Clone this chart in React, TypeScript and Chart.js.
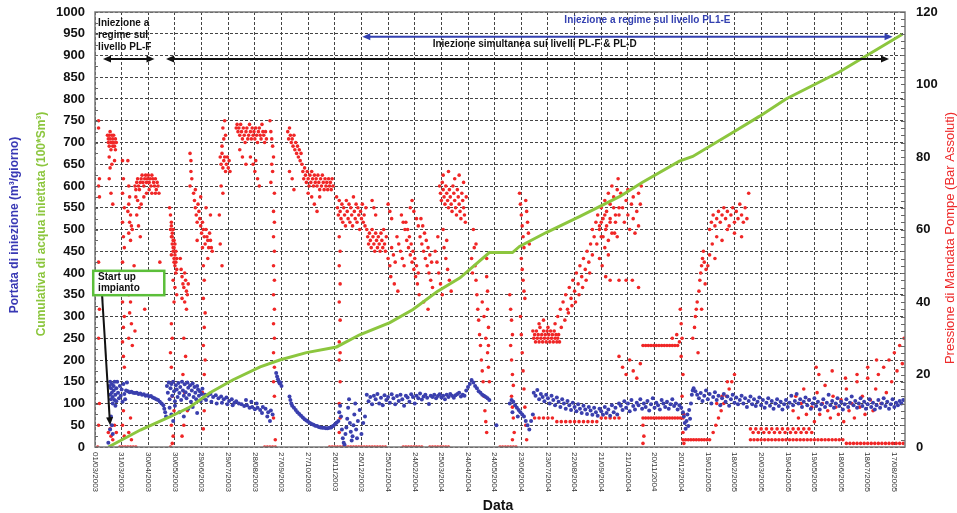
import React, { useEffect, useRef } from 'react';
import { Chart, registerables } from 'chart.js';

Chart.register(...registerables);

// Days counted from 01/03/2003; one labelled tick every 30 days
const tickDays = [0, 30, 60, 90, 120, 150, 180, 210, 240, 270, 300, 330, 360, 390, 420, 450, 480, 510, 540, 570, 600, 630, 660, 690, 720, 750, 780, 810, 840, 870, 900];
const tickLabels = [
  '01/03/2003', '31/03/2003', '30/04/2003', '30/05/2003', '29/06/2003', '29/07/2003', '28/08/2003',
  '27/09/2003', '27/10/2003', '26/11/2003', '26/12/2003', '25/01/2004', '24/02/2004', '25/03/2004',
  '24/04/2004', '24/05/2004', '23/06/2004', '23/07/2004', '22/08/2004', '21/09/2004', '21/10/2004',
  '20/11/2004', '20/12/2004', '19/01/2005', '18/02/2005', '20/03/2005', '19/04/2005', '19/05/2005',
  '18/06/2005', '18/07/2005', '17/08/2005'
];
const dayMax = 912;

// Cumulative injected water (100*Sm3), left axis
const cumDays = [15, 51, 84, 107, 129, 155, 186, 208, 238, 272, 298, 332, 358, 385, 411, 444, 470, 478, 508, 546, 591, 616, 658, 673, 718, 748, 778, 838, 868, 909];
const cumValues = [0, 39, 69, 92, 124, 154, 184, 200, 217, 230, 258, 286, 316, 357, 389, 447, 447, 461, 493, 530, 576, 608, 657, 668, 723, 760, 800, 862, 899, 949];

// Pump delivery pressure (bar), right axis: pairs of [day, bar]
const pressure2003 = [
  4, 90, 4, 88, 5, 74, 4, 72, 5, 69, 4, 51, 5, 38, 4, 30, 5, 12, 4, 6, 3, 0,
  14, 86, 15, 85, 15, 84, 16, 86, 16, 83, 17, 87, 17, 85, 18, 84, 18, 82, 19, 86, 19, 84, 20, 85, 20, 83, 21, 84, 21, 86, 22, 83, 23, 85, 23, 82, 24, 84,
  16, 80, 17, 77, 16, 74, 18, 70, 20, 67, 19, 78, 22, 79, 15, 4, 17, 5, 18, 3, 20, 2, 22, 6, 24, 4,
  31, 79, 32, 74, 31, 70, 33, 66, 31, 62, 32, 58, 33, 55, 31, 51, 32, 47, 32, 43, 31, 40, 33, 36, 32, 33, 31, 29, 32, 25, 33, 22, 32, 10, 31, 6, 33, 3,
  37, 79, 38, 72, 39, 69, 38, 67, 37, 65, 40, 64, 39, 62, 41, 61, 38, 59, 40, 57, 42, 60, 39, 48, 38, 42, 40, 40, 39, 37, 41, 34, 38, 30, 42, 28, 40, 8, 38, 4, 41, 2,
  45, 72, 46, 71, 47, 73, 48, 74, 49, 72, 50, 71, 51, 73, 52, 74, 53, 75, 54, 73, 55, 72, 56, 74, 57, 75, 58, 73, 59, 74, 60, 75, 61, 73, 62, 74, 63, 72, 64, 75,
  65, 74, 66, 73, 67, 72, 68, 74, 69, 71, 70, 73, 71, 72, 72, 70, 46, 69, 48, 68, 50, 66, 52, 67, 47, 64, 49, 61, 51, 58, 55, 69, 58, 70, 61, 71, 64, 70, 68, 70,
  44, 50, 73, 51, 44, 45, 56, 38, 45, 32,
  84, 66, 85, 64, 86, 62, 85, 60, 87, 59, 86, 58, 88, 57, 87, 56, 89, 55, 88, 54, 90, 53, 89, 52, 91, 51, 90, 50, 92, 49, 91, 48, 88, 46, 90, 44, 92, 42, 89, 40,
  86, 34, 87, 30, 85, 26, 86, 22, 88, 18, 87, 14, 89, 10, 86, 6, 88, 3, 85, 0, 87, 1,
  86, 61, 88, 60, 87, 58, 89, 57, 90, 56, 88, 55, 91, 54, 86, 53, 89, 51, 92, 52,
  96, 52, 97, 49, 98, 47, 99, 45, 100, 44, 101, 48, 102, 46, 103, 43, 104, 42, 98, 41, 101, 40, 105, 45, 103, 38, 100, 30, 102, 25, 99, 20, 101, 15, 104, 10, 100, 6, 98, 3,
  107, 81, 108, 79, 108, 76, 109, 74, 107, 72,
  111, 70, 112, 68, 113, 66, 114, 64, 115, 62, 116, 67, 117, 65, 118, 63, 119, 61, 120, 59, 121, 62, 122, 60, 123, 58, 124, 56, 125, 60, 126, 58, 127, 57, 128, 55,
  129, 59, 130, 57, 131, 55, 132, 54, 113, 71, 119, 69, 125, 66, 130, 64, 115, 57, 121, 55, 127, 52,
  122, 50, 123, 46, 122, 41, 124, 37, 123, 33, 122, 28, 124, 24, 123, 20, 121, 15, 123, 10, 122, 5,
  141, 80, 142, 78, 143, 81, 144, 77, 145, 79, 146, 80, 147, 76, 148, 78, 149, 80, 150, 77, 151, 79, 152, 76, 144, 88, 145, 85, 143, 83, 146, 90, 147, 86, 142, 72, 144, 70, 140, 64, 141, 56, 143, 50,
  159, 88, 160, 89, 161, 87, 162, 88, 163, 86, 164, 89, 165, 87, 166, 85, 167, 88, 168, 86, 169, 84, 170, 87, 171, 88, 172, 85, 173, 86, 174, 89, 175, 87, 176, 85,
  177, 88, 178, 86, 179, 87, 180, 85, 181, 88, 182, 86, 183, 84, 184, 87, 185, 88, 186, 86, 187, 85, 188, 89, 189, 87, 190, 86, 191, 84, 192, 87, 193, 85,
  175, 80, 178, 78, 180, 76, 183, 74, 185, 72, 181, 79, 166, 80, 170, 78, 163, 82,
  197, 90, 198, 87, 199, 85, 200, 83, 201, 80, 199, 78, 200, 76, 198, 73, 202, 70,
  201, 65, 202, 62, 201, 58, 202, 54, 201, 50, 202, 46, 201, 42, 202, 38, 201, 34, 202, 30, 201, 26, 202, 22, 201, 18, 202, 14, 201, 8, 203, 2,
  217, 87, 218, 85, 219, 88, 220, 86, 221, 84, 222, 85, 223, 83, 224, 86, 225, 82, 226, 84, 227, 81, 228, 83, 229, 80, 230, 82, 231, 79, 232, 81, 233, 78, 219, 76, 222, 74, 224, 71,
  234, 76, 235, 74, 236, 77, 237, 75, 238, 73, 239, 76, 240, 74, 241, 72, 242, 75, 243, 73, 244, 76, 245, 74, 246, 72, 247, 75, 248, 73, 249, 74, 250, 72, 251, 75,
  252, 73, 253, 71, 254, 74, 255, 72, 256, 75, 257, 73, 258, 71, 259, 74, 260, 72, 261, 73, 262, 71, 263, 74, 264, 72, 265, 73, 266, 71, 267, 74, 268, 72,
  240, 70, 244, 69, 247, 67, 250, 65, 253, 69,
  272, 69, 273, 66, 274, 64, 275, 68, 276, 65, 277, 63, 278, 67, 279, 62, 280, 66, 281, 64, 282, 61, 283, 68, 284, 65, 285, 63, 286, 67, 287, 62, 288, 66,
  289, 64, 290, 61, 291, 69, 292, 65, 293, 63, 294, 67, 295, 62, 296, 66, 297, 64, 298, 60, 299, 65, 300, 63, 301, 67, 302, 62, 303, 64, 304, 61, 305, 66,
  275, 58, 276, 54, 275, 50, 276, 45, 275, 40, 276, 35, 275, 29, 276, 26, 275, 24, 276, 18, 275, 12, 276, 8, 275, 4,
  28, 0, 31, 0, 34, 0, 37, 0, 40, 0, 43, 0, 46, 0, 191, 0, 194, 0, 197, 0, 200, 0, 203, 0, 264, 0, 267, 0, 270, 0, 273, 0, 276, 0, 279, 0,
  282, 0, 285, 0, 288, 0, 291, 0, 294, 0, 297, 0, 300, 0, 303, 0
];

const pressure2004 = [
  306, 60, 307, 58, 308, 56, 309, 59, 310, 57, 311, 55, 312, 60, 313, 58, 314, 56, 315, 54, 316, 59, 317, 57, 318, 55, 319, 58, 320, 56, 321, 54, 322, 59,
  323, 57, 324, 55, 325, 60, 326, 56, 327, 54, 328, 58, 312, 68, 314, 66, 316, 64, 330, 67, 332, 65, 334, 63,
  330, 52, 332, 50, 334, 55, 336, 53, 338, 51, 340, 58, 342, 56, 344, 54, 346, 52, 348, 50, 350, 62, 352, 60, 354, 58, 356, 56, 358, 54, 360, 52, 362, 50, 364, 48,
  345, 64, 347, 62, 349, 60, 351, 57, 353, 55, 355, 53, 357, 51, 359, 49, 361, 47, 363, 45, 366, 58, 368, 56, 370, 54, 372, 52, 374, 50, 376, 48, 378, 46, 380, 44,
  367, 63, 369, 61, 371, 59, 373, 57, 375, 55, 377, 53, 379, 51, 333, 47, 337, 45, 341, 43, 365, 42, 370, 40, 375, 38, 355, 66, 357, 68, 359, 65, 362, 63, 364, 61,
  388, 72, 389, 70, 390, 68, 391, 73, 392, 71, 393, 69, 394, 67, 395, 72, 396, 70, 397, 68, 398, 66, 399, 71, 400, 69, 401, 67, 402, 65, 403, 72, 404, 70,
  405, 68, 406, 66, 407, 64, 408, 71, 409, 69, 410, 67, 411, 65, 412, 63, 413, 70, 414, 68, 415, 66, 416, 64, 417, 62, 418, 69, 392, 75, 398, 76, 405, 74, 410, 75, 415, 73,
  383, 54, 385, 51, 387, 48, 389, 45, 391, 42, 393, 55, 395, 52, 397, 49, 399, 46, 401, 43, 386, 58, 392, 60, 396, 57,
  426, 60, 427, 55, 428, 50, 429, 46, 430, 42, 431, 38, 432, 35, 433, 31, 434, 28, 435, 24, 436, 21, 437, 18, 438, 14, 439, 10, 440, 7, 441, 4,
  436, 40, 438, 36, 440, 30, 442, 26, 443, 22, 444, 18, 424, 52, 425, 48, 429, 56, 441, 52, 441, 47, 442, 43, 442, 38, 443, 33, 443, 28,
  467, 42, 468, 38, 469, 35, 470, 31, 468, 28, 469, 24, 470, 20, 471, 17, 469, 14, 470, 11, 471, 8, 472, 4, 470, 2,
  478, 70, 479, 67, 480, 64, 481, 61, 482, 58, 483, 55, 480, 52, 481, 49, 482, 46, 483, 43, 484, 41, 485, 68, 486, 65, 487, 62, 488, 59, 489, 56,
  479, 36, 480, 31, 481, 26, 482, 21, 483, 16, 484, 11, 485, 6, 486, 2,
  493, 32, 494, 30, 495, 31, 496, 29, 497, 32, 498, 30, 499, 31, 500, 29, 501, 33, 502, 30, 503, 31, 504, 29, 505, 32, 506, 30, 507, 31, 508, 29,
  509, 32, 510, 30, 511, 31, 512, 29, 513, 32, 514, 30, 515, 31, 516, 29, 517, 32, 518, 30, 519, 31, 520, 29, 521, 30, 522, 31, 523, 29, 500, 34, 505, 35, 510, 33,
  518, 34, 521, 36, 524, 38, 527, 40, 530, 42, 532, 38, 534, 44, 536, 41, 538, 46, 540, 43, 542, 48, 544, 45, 546, 50, 548, 47, 550, 52, 552, 49, 554, 54,
  556, 51, 558, 56, 560, 53, 525, 33, 529, 35, 533, 37, 537, 39, 541, 40, 545, 42, 549, 44, 553, 46, 557, 48,
  560, 60, 562, 58, 564, 62, 566, 64, 568, 61, 570, 66, 572, 63, 574, 68, 576, 65, 578, 70, 580, 67, 582, 72, 584, 69, 586, 64, 588, 71, 590, 66,
  565, 56, 570, 58, 575, 60, 580, 62, 585, 59,
  495, 8, 500, 8, 505, 8, 510, 8, 515, 8, 520, 7, 525, 7, 530, 7, 535, 7, 540, 7, 545, 7, 550, 7, 555, 7, 560, 7, 565, 7, 570, 8, 575, 8, 580, 8, 585, 8, 590, 8,
  568, 60, 570, 62, 572, 58, 574, 64, 576, 61, 578, 57, 580, 63, 582, 59, 584, 66, 586, 62, 588, 58, 590, 64, 592, 70, 594, 66, 596, 62, 598, 68, 600, 64,
  602, 60, 604, 67, 606, 63, 608, 59, 610, 65, 612, 61, 614, 67, 615, 72, 612, 70, 589, 74, 600, 71, 606, 69, 574, 55, 578, 53, 568, 52, 571, 50, 575, 47,
  580, 46, 590, 46, 598, 46, 605, 46, 612, 44,
  590, 25, 594, 22, 598, 20, 602, 24, 606, 21, 610, 19, 614, 23,
  617, 28, 620, 28, 623, 28, 626, 28, 629, 28, 632, 28, 635, 28, 638, 28, 641, 28, 644, 28, 647, 28, 650, 28, 653, 28, 656, 28, 658, 29, 655, 31, 650, 30,
  617, 8, 620, 8, 623, 8, 626, 8, 629, 8, 632, 8, 635, 8, 638, 8, 641, 8, 644, 8, 647, 8, 650, 8, 653, 8, 656, 8, 659, 8, 662, 8,
  617, 6, 618, 3, 617, 1, 659, 38, 660, 34, 661, 30, 660, 25, 662, 20, 661, 14, 663, 9, 662, 4, 663, 1,
  306, 0, 309, 0, 312, 0, 315, 0, 318, 0, 321, 0, 324, 0, 327, 0, 347, 0, 350, 0, 353, 0, 356, 0, 359, 0, 362, 0, 365, 0, 368, 0,
  377, 0, 380, 0, 383, 0, 386, 0, 389, 0, 392, 0, 395, 0, 398, 0, 456, 0, 459, 0, 462, 0, 465, 0, 468, 0, 471, 0, 474, 0
];

const pressure2005 = [
  662, 2, 665, 2, 668, 2, 671, 2, 674, 2, 677, 2, 680, 2, 683, 2, 686, 2, 689, 2, 692, 2,
  673, 30, 675, 33, 676, 36, 677, 38, 678, 40, 680, 43, 681, 46, 682, 48, 683, 50, 684, 52, 685, 54, 686, 51, 688, 49, 690, 50, 692, 53, 679, 26, 683, 38, 687, 45,
  692, 60, 694, 62, 696, 64, 698, 61, 700, 63, 702, 65, 704, 62, 706, 64, 708, 66, 710, 63, 712, 65, 714, 61, 716, 64, 718, 66, 720, 62, 722, 65, 724, 63,
  726, 67, 728, 64, 730, 62, 732, 66, 734, 63, 736, 70, 700, 58, 706, 57, 712, 60, 720, 59, 728, 58, 695, 56, 698, 52,
  696, 4, 699, 6, 702, 8, 705, 10, 708, 12, 711, 14, 714, 16, 717, 18, 720, 20, 700, 12, 706, 14, 712, 18,
  738, 5, 741, 4, 744, 5, 747, 4, 750, 5, 753, 4, 756, 5, 759, 4, 762, 5, 765, 4, 768, 5, 771, 4, 774, 5, 777, 4, 780, 5, 783, 4, 786, 5, 789, 4, 792, 5,
  795, 4, 798, 5, 801, 4, 804, 5, 807, 4,
  738, 2, 742, 2, 746, 2, 750, 2, 754, 2, 758, 2, 762, 2, 766, 2, 770, 2, 774, 2, 778, 2, 782, 2, 786, 2, 790, 2, 794, 2, 798, 2, 802, 2, 806, 2, 810, 2,
  814, 2, 818, 2, 822, 2, 826, 2, 830, 2, 834, 2, 838, 2, 842, 2, 846, 1, 850, 1, 854, 1, 858, 1, 862, 1, 866, 1, 870, 1, 874, 1, 878, 1, 882, 1, 886, 1,
  890, 1, 894, 1, 898, 1, 902, 1, 906, 1, 910, 1,
  786, 10, 789, 14, 792, 8, 795, 12, 798, 16, 801, 9, 804, 13, 807, 11, 810, 7, 813, 15, 816, 9, 819, 12, 822, 17, 825, 10, 828, 8, 831, 14, 834, 11,
  837, 9, 840, 13, 843, 7, 846, 16, 849, 10, 852, 12, 855, 8, 858, 18, 861, 11, 864, 14, 867, 9, 870, 19, 873, 13, 876, 10, 879, 16, 882, 20, 885, 12,
  888, 22, 891, 15, 894, 24, 897, 18, 900, 26, 903, 21, 906, 28, 909, 23, 911, 30, 858, 20, 870, 22, 880, 24, 812, 22, 815, 20, 830, 21, 845, 19
];

// Injection flow rate (m3/day), left axis: pairs of [day, m3/day]
const flow2003 = [
  15, 10, 16, 140, 17, 150, 17, 120, 18, 135, 18, 110, 19, 145, 19, 125, 20, 115, 20, 100, 21, 140, 21, 130, 22, 108, 22, 150, 23, 120, 23, 95, 24, 135,
  24, 105, 25, 150, 26, 125, 27, 112, 28, 140, 29, 118, 30, 132, 31, 104, 32, 145, 33, 122, 34, 110, 35, 130, 36, 148, 18, 70, 19, 50, 17, 40, 20, 30,
  37, 128, 39, 126, 41, 127, 43, 125, 45, 124, 47, 125, 49, 122, 51, 123, 53, 120, 55, 121, 57, 118, 59, 119, 61, 116, 63, 117, 65, 114, 67, 112,
  69, 110, 71, 108, 73, 104, 75, 100, 77, 96, 78, 88, 79, 80, 80, 70,
  81, 140, 82, 125, 83, 148, 84, 110, 85, 135, 86, 145, 87, 118, 88, 150, 89, 128, 90, 105, 91, 142, 92, 132, 93, 115, 94, 147, 95, 124, 96, 138, 97, 108,
  98, 150, 99, 130, 100, 118, 101, 144, 102, 126, 103, 112, 104, 148, 105, 136, 106, 120, 107, 142, 108, 104, 109, 130, 110, 146, 111, 115, 112, 138,
  113, 125, 114, 110, 115, 140, 116, 132, 117, 118, 118, 128, 119, 106, 120, 122, 121, 134, 122, 112,
  84, 90, 86, 75, 88, 60, 90, 95, 95, 80, 100, 70, 105, 88, 110, 92, 115, 78,
  124, 120, 127, 118, 130, 122, 133, 115, 136, 119, 139, 112, 142, 116, 145, 110, 148, 114, 151, 106, 154, 110, 157, 102, 125, 108, 131, 104, 137, 100,
  143, 102, 149, 98, 155, 96,
  159, 105, 162, 100, 165, 98, 168, 94, 171, 96, 174, 90, 177, 92, 180, 87, 183, 90, 186, 85, 189, 92, 192, 88, 195, 80, 198, 84, 200, 75, 170, 108,
  176, 104, 182, 100, 188, 78, 194, 70, 197, 60,
  204, 170, 205, 162, 206, 156, 207, 150, 208, 146, 209, 148, 210, 140,
  219, 116, 220, 108, 221, 100, 222, 95, 224, 90, 226, 85, 228, 80, 230, 76, 232, 72, 234, 68, 236, 64, 238, 61, 240, 58, 242, 55, 244, 53, 246, 51,
  248, 49, 250, 48, 252, 46, 254, 45, 256, 44, 258, 44, 260, 43, 262, 43, 264, 44, 266, 45, 268, 48, 270, 52, 272, 56,
  274, 60, 275, 80, 276, 95, 277, 70, 278, 40, 279, 20, 280, 10, 281, 5, 282, 30, 283, 45, 284, 65, 285, 90, 286, 110, 287, 55, 288, 35, 289, 15,
  290, 25, 291, 50, 292, 75, 293, 100, 294, 40, 295, 20, 296, 60, 298, 85, 300, 30, 302, 55, 304, 70
];

const flow2004 = [
  306, 120, 308, 105, 310, 115, 312, 98, 314, 118, 316, 110, 318, 122, 320, 100, 322, 113, 324, 96, 326, 119, 328, 108, 330, 115, 332, 102, 334, 121,
  336, 112, 338, 98, 340, 117, 342, 106, 344, 120, 346, 110, 348, 95, 350, 118, 352, 114, 354, 104, 356, 121, 358, 115, 360, 100, 362, 118, 364, 112,
  366, 123, 368, 109, 370, 116, 372, 120, 374, 113, 376, 99, 378, 118, 380, 115, 382, 120, 384, 112, 386, 117, 388, 121, 390, 114, 392, 118, 394, 110,
  396, 120, 398, 115, 400, 122, 402, 118, 404, 113, 406, 119, 408, 122, 410, 125, 412, 116, 414, 120, 416, 118,
  418, 130, 420, 138, 422, 145, 424, 154, 426, 148, 428, 140, 430, 135, 432, 128, 434, 125, 436, 120, 438, 118, 440, 115, 442, 112, 444, 108, 452, 50,
  467, 100, 469, 108, 471, 104, 473, 96, 475, 90, 477, 85, 479, 80, 481, 75, 483, 70, 485, 60, 487, 50, 489, 40, 491, 60, 493, 75, 470, 80, 476, 70,
  494, 125, 496, 118, 498, 131, 500, 110, 502, 122, 504, 115, 506, 105, 508, 120, 510, 112, 512, 100, 514, 118, 516, 108, 518, 96, 520, 114, 522, 104,
  524, 92, 526, 110, 528, 100, 530, 88, 532, 106, 534, 96, 536, 85, 538, 102, 540, 92, 542, 82, 544, 98, 546, 88, 548, 78, 550, 95, 552, 86, 554, 76,
  556, 92, 558, 84, 560, 74, 562, 90, 564, 80, 566, 72, 568, 88, 570, 82, 572, 74, 574, 92, 576, 78, 578, 86, 580, 72, 582, 96, 584, 80, 586, 90, 588, 75, 590, 100,
  592, 95, 594, 85, 596, 105, 598, 90, 600, 100, 602, 82, 604, 108, 606, 94, 608, 86, 610, 102, 612, 96, 614, 110, 616, 88, 618, 100, 620, 92, 622, 106,
  624, 84, 626, 98, 628, 112, 630, 90, 632, 102, 634, 96, 636, 86, 638, 108, 640, 100, 642, 92, 644, 104, 646, 88, 648, 98, 650, 110, 652, 94, 654, 100,
  656, 86, 658, 96, 660, 90, 662, 80, 663, 70, 664, 55, 665, 42, 666, 60, 667, 75, 668, 48, 669, 85, 670, 65
];

const flow2005 = [
  671, 100, 672, 120, 673, 130, 674, 135, 676, 128, 678, 120, 680, 112, 682, 124, 684, 106, 686, 118, 688, 130, 690, 110, 692, 122, 694, 100, 696, 115,
  698, 126, 700, 108, 702, 118, 704, 96, 706, 112, 708, 122, 710, 104, 712, 116, 714, 95, 716, 110, 718, 120, 720, 102, 722, 114, 724, 98, 726, 108,
  728, 118, 730, 100, 732, 112, 734, 92, 736, 106, 738, 116, 740, 98, 742, 110, 744, 94, 746, 104, 748, 114, 750, 96, 752, 108, 754, 90, 756, 102,
  758, 112, 760, 95, 762, 106, 764, 88, 766, 100, 768, 110, 770, 94, 772, 104, 774, 86, 776, 98, 778, 108, 780, 92, 782, 102, 784, 118, 786, 96,
  788, 106, 790, 122, 792, 100, 794, 110, 796, 92, 798, 104, 800, 114, 802, 96, 804, 108, 806, 88, 808, 100, 810, 112, 812, 94, 814, 104, 816, 86,
  818, 98, 820, 110, 822, 92, 824, 102, 826, 120, 828, 96, 830, 106, 832, 90, 834, 100, 836, 112, 838, 94, 840, 104, 842, 86, 844, 98, 846, 110,
  848, 92, 850, 102, 852, 116, 854, 96, 856, 106, 858, 90, 860, 100, 862, 112, 864, 94, 866, 104, 868, 88, 870, 98, 872, 110, 874, 92, 876, 102,
  878, 86, 880, 96, 882, 108, 884, 90, 886, 100, 888, 112, 890, 94, 892, 104, 894, 88, 896, 98, 898, 110, 900, 92, 902, 102, 904, 96, 906, 106, 908, 100, 910, 108
];

// Annotations, in [day, left-axis value]
const phaseArrows = [
  { from: [9, 892], to: [67, 892], color: '#111111', both: true },
  { from: [80, 892], to: [894, 892], color: '#111111', both: true },
  { from: [301, 943], to: [898, 943], color: '#3340b0', both: true },
  { from: [8, 349], to: [17, 50], color: '#111111', both: false }
];
const phaseNotes = [
  { text: 'Iniezione a', at: [3.5, 973], color: '#111111', align: 'left' },
  { text: 'regime sul', at: [3.5, 946], color: '#111111', align: 'left' },
  { text: 'livello PL-F', at: [3.5, 919], color: '#111111', align: 'left' },
  { text: 'Iniezione simultanea sui livelli PL-F & PL-D', at: [495, 927], color: '#111111', align: 'center' },
  { text: 'Iniezione a regime sul livello PL1-E', at: [622, 980], color: '#3340b0', align: 'center' }
];
const startBox = { from: [-2, 405], to: [78, 349] };
const startLines = [
  { text: 'Start up', at: [3.5, 391] },
  { text: 'impianto', at: [3.5, 364] }
];

const FONT = 'Arial, "Liberation Sans", sans-serif';

function toPoints(flat: number[]) {
  const out: { x: number; y: number }[] = [];
  for (let i = 0; i < flat.length; i += 2) out.push({ x: flat[i], y: flat[i + 1] });
  return out;
}

function drawArrow(ctx: CanvasRenderingContext2D, x1: number, y1: number, x2: number, y2: number, color: string, both: boolean) {
  const head = 8;
  const half = 3.5;
  ctx.save();
  ctx.strokeStyle = color;
  ctx.fillStyle = color;
  ctx.lineWidth = 2;
  const ang = Math.atan2(y2 - y1, x2 - x1);
  const cos = Math.cos(ang);
  const sin = Math.sin(ang);
  const sx = both ? x1 + cos * head * 0.8 : x1;
  const sy = both ? y1 + sin * head * 0.8 : y1;
  ctx.beginPath();
  ctx.moveTo(sx, sy);
  ctx.lineTo(x2 - cos * head * 0.8, y2 - sin * head * 0.8);
  ctx.stroke();
  const tip = (tx: number, ty: number, dir: number) => {
    const c = Math.cos(dir);
    const s = Math.sin(dir);
    ctx.beginPath();
    ctx.moveTo(tx, ty);
    ctx.lineTo(tx - c * head - s * half, ty - s * head + c * half);
    ctx.lineTo(tx - c * head + s * half, ty - s * head - c * half);
    ctx.closePath();
    ctx.fill();
  };
  tip(x2, y2, ang);
  if (both) tip(x1, y1, ang + Math.PI);
  ctx.restore();
}

const decorPlugin = {
  id: 'decor',
  afterDraw(chart: any) {
    const ctx: CanvasRenderingContext2D = chart.ctx;
    const { left, right, top, bottom } = chart.chartArea;
    const xs = chart.scales.x;
    const ys = chart.scales.y;
    const yr = chart.scales.y1;
    const px = (d: number) => xs.getPixelForValue(d);
    const py = (v: number) => ys.getPixelForValue(v);

    // plot frame
    ctx.save();
    ctx.strokeStyle = '#7a7a7a';
    ctx.lineWidth = 1.5;
    ctx.strokeRect(left, top, right - left, bottom - top);

    // minor ticks along the borders
    ctx.lineWidth = 1;
    ctx.strokeStyle = '#666666';
    for (let b = 0; b <= 120; b += 2) {
      const y = Math.round(yr.getPixelForValue(b)) + 0.5;
      ctx.beginPath();
      ctx.moveTo(right - 4, y);
      ctx.lineTo(right, y);
      ctx.stroke();
    }
    for (let v = 0; v <= 1000; v += 25) {
      const y = Math.round(py(v)) + 0.5;
      ctx.beginPath();
      ctx.moveTo(left, y);
      ctx.lineTo(left + 3, y);
      ctx.stroke();
    }

    // date labels, written top to bottom
    ctx.fillStyle = '#333333';
    ctx.font = `8px ${FONT}`;
    ctx.textAlign = 'left';
    ctx.textBaseline = 'middle';
    tickDays.forEach((d, i) => {
      ctx.save();
      ctx.translate(px(d), bottom + 5);
      ctx.rotate(Math.PI / 2);
      ctx.fillText(tickLabels[i], 0, 0);
      ctx.restore();
    });

    // axis titles
    ctx.font = `bold 14px ${FONT}`;
    ctx.fillStyle = '#111111';
    ctx.textAlign = 'center';
    ctx.fillText('Data', 498, 506);

    const vTitle = (text: string, x: number, y: number, color: string, font: string, dir: number) => {
      ctx.save();
      ctx.translate(x, y);
      ctx.rotate(dir);
      ctx.font = font;
      ctx.fillStyle = color;
      ctx.textAlign = 'center';
      ctx.textBaseline = 'middle';
      ctx.fillText(text, 0, 0);
      ctx.restore();
    };
    vTitle('Portata di iniezione (m³/giorno)', 15, 225, '#3838b4', `bold 12px ${FONT}`, -Math.PI / 2);
    vTitle('Cumulativa di acqua iniettata (100*Sm³)', 42, 224, '#8cc63e', `bold 12px ${FONT}`, -Math.PI / 2);
    vTitle('Pressione di Mandata Pompe (Bar Assoluti)', 950, 238, '#ee2a2a', `13px ${FONT}`, -Math.PI / 2);

    // phase arrows and notes
    phaseArrows.forEach((a) => {
      drawArrow(ctx, px(a.from[0]), py(a.from[1]), px(a.to[0]), py(a.to[1]), a.color, a.both);
    });
    ctx.font = `bold 10px ${FONT}`;
    ctx.textBaseline = 'middle';
    phaseNotes.forEach((n) => {
      ctx.fillStyle = n.color;
      ctx.textAlign = n.align as CanvasTextAlign;
      ctx.fillText(n.text, px(n.at[0]), py(n.at[1]));
    });

    // start-up box
    const bx1 = px(startBox.from[0]);
    const by1 = py(startBox.from[1]);
    const bx2 = px(startBox.to[0]);
    const by2 = py(startBox.to[1]);
    ctx.fillStyle = '#ffffff';
    ctx.fillRect(bx1, by1, bx2 - bx1, by2 - by1);
    ctx.strokeStyle = '#5cbf3a';
    ctx.lineWidth = 2.5;
    ctx.strokeRect(bx1, by1, bx2 - bx1, by2 - by1);
    ctx.fillStyle = '#111111';
    ctx.textAlign = 'left';
    startLines.forEach((l) => ctx.fillText(l.text, px(l.at[0]), py(l.at[1])));
    ctx.restore();
  }
};

export default function App() {
  const canvasRef = useRef<HTMLCanvasElement | null>(null);

  useEffect(() => {
    if (!canvasRef.current) return;
    const gridDash = { dash: [3, 2], display: false };
    const plain = (v: any) => String(v);
    const chart = new Chart(canvasRef.current, {
      type: 'scatter',
      data: {
        datasets: [
          {
            type: 'line',
            label: 'Cumulativa',
            data: cumDays.map((d, i) => ({ x: d, y: cumValues[i] })),
            borderColor: '#8cc63e',
            borderWidth: 3,
            pointRadius: 0,
            tension: 0,
            yAxisID: 'y',
            order: 0
          } as any,
          {
            label: 'Portata',
            data: [...toPoints(flow2003), ...toPoints(flow2004), ...toPoints(flow2005)],
            backgroundColor: '#3a3fae',
            borderWidth: 0,
            pointRadius: 2,
            yAxisID: 'y',
            order: 1
          },
          {
            label: 'Pressione',
            data: [...toPoints(pressure2003), ...toPoints(pressure2004), ...toPoints(pressure2005)],
            backgroundColor: '#f02626',
            borderWidth: 0,
            pointRadius: 1.8,
            yAxisID: 'y1',
            order: 2
          }
        ]
      },
      options: {
        animation: false,
        responsive: true,
        maintainAspectRatio: false,
        layout: { padding: { top: 12, left: 0, right: 0, bottom: 0 } },
        plugins: { legend: { display: false }, tooltip: { enabled: false } },
        scales: {
          x: {
            type: 'linear',
            min: 0,
            max: dayMax,
            afterBuildTicks: (s: any) => {
              s.ticks = tickDays.map((v) => ({ value: v }));
            },
            afterFit: (s: any) => {
              s.height = 66;
              s.paddingLeft = 0;
              s.paddingRight = 0;
            },
            ticks: { display: false },
            grid: { color: '#444444', lineWidth: 1, drawTicks: false },
            border: gridDash
          },
          y: {
            position: 'left',
            min: 0,
            max: 1000,
            afterFit: (s: any) => {
              s.width = 95;
              s.paddingTop = 0;
              s.paddingBottom = 0;
            },
            ticks: {
              stepSize: 50,
              autoSkip: false,
              padding: 10,
              color: '#111111',
              callback: plain,
              font: { family: FONT, size: 13, weight: 'bold' }
            },
            grid: { color: '#444444', lineWidth: 1, drawTicks: false },
            border: gridDash
          },
          y1: {
            position: 'right',
            min: 0,
            max: 120,
            afterFit: (s: any) => {
              s.width = 52;
              s.paddingTop = 0;
              s.paddingBottom = 0;
            },
            ticks: {
              stepSize: 20,
              autoSkip: false,
              padding: 11,
              color: '#111111',
              callback: plain,
              font: { family: FONT, size: 13, weight: 'bold' }
            },
            grid: { drawOnChartArea: false, drawTicks: false },
            border: { display: false }
          }
        }
      },
      plugins: [decorPlugin]
    });
    return () => chart.destroy();
  }, []);

  return (
    <div style={{ position: 'fixed', left: 0, top: 0, width: 957, height: 513, background: '#ffffff' }}>
      <canvas ref={canvasRef} />
    </div>
  );
}
